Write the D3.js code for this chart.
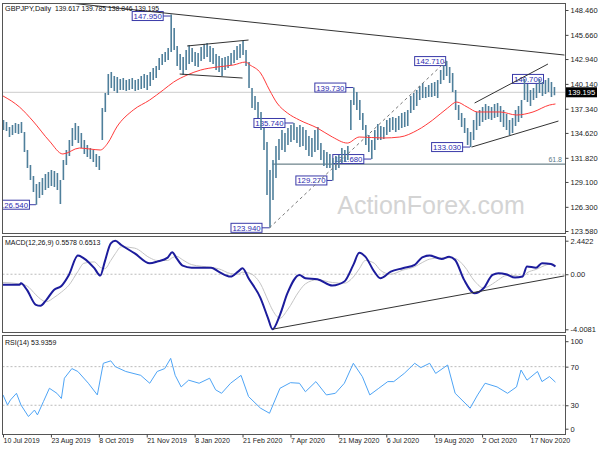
<!DOCTYPE html>
<html><head><meta charset="utf-8">
<script src="https://cdn.jsdelivr.net/npm/d3@7"></script>
<style>
body{margin:0;background:#fff}
svg{display:block}
text{font-family:Tahoma,'Liberation Sans',Arial,sans-serif}
</style>
</head><body>
<svg id="c" width="600" height="450"></svg>
<script>
// ---------- DATA ----------
// price bars, one entry per 2 trading days (bar index = 2*k)
const hi=[136.07,135.85,135.29,135.51,135.74,135.62,135.85,134.72,132.70,131.01,129.77,128.87,129.09,129.54,129.99,130.22,130.44,130.33,130.11,129.32,131.57,132.70,133.82,135.17,135.74,135.40,134.61,133.82,133.26,132.92,132.70,132.25,132.02,137.43,139.11,141.25,141.48,141.03,140.92,140.69,140.80,140.58,140.69,140.80,140.58,140.69,141.03,141.25,141.14,141.48,141.93,142.15,143.06,143.51,143.73,144.18,147.95,146.43,144.41,143.51,143.17,143.96,144.52,144.18,143.73,143.62,144.29,144.63,144.74,144.41,144.18,143.51,143.28,143.06,143.17,143.28,143.62,143.96,144.41,144.63,144.97,143.96,142.60,139.68,138.78,138.10,136.98,135.17,133.60,130.44,131.57,133.15,133.93,134.95,134.61,135.17,135.51,135.74,135.29,135.51,135.29,134.95,134.27,134.05,134.95,135.29,133.48,132.70,132.47,132.25,131.80,132.02,132.13,132.92,132.70,133.15,138.33,139.73,139.23,138.33,136.86,135.51,134.39,133.82,134.95,135.62,135.40,135.29,136.07,136.30,136.41,136.30,136.52,136.86,136.98,137.20,138.78,139.11,139.45,139.90,140.24,139.79,140.02,140.24,140.35,140.58,141.70,142.27,142.71,142.04,141.37,139.45,137.76,136.86,136.30,135.17,134.72,136.07,136.98,137.20,137.54,137.88,137.65,137.54,137.88,137.99,137.65,137.20,136.75,136.07,136.30,137.20,137.65,138.33,140.70,140.13,139.45,139.68,140.13,140.69,140.35,140.58,140.80,140.35,139.79];
const lo=[134.95,134.84,134.16,134.39,134.61,134.50,134.61,132.47,130.67,129.32,127.97,126.54,127.29,127.63,128.19,128.42,128.64,128.53,128.19,126.62,129.32,131.01,132.02,133.15,133.82,133.48,132.92,132.25,131.91,131.68,131.35,130.78,130.44,133.82,136.98,138.89,139.68,139.34,139.11,139.45,139.45,139.34,139.45,139.56,139.34,139.45,139.56,139.68,139.45,139.90,140.58,140.80,141.70,142.27,142.60,142.83,143.73,143.96,142.15,141.70,141.14,141.70,142.38,142.60,142.15,142.04,142.72,142.94,143.17,142.60,142.38,141.70,141.48,141.03,141.70,141.93,142.27,142.49,142.83,143.06,143.39,142.15,139.68,137.43,137.20,136.30,134.95,132.70,127.63,123.94,127.07,129.54,131.57,132.70,132.47,133.26,133.60,133.82,133.48,133.03,133.15,132.70,132.02,131.91,132.47,132.70,131.57,130.89,130.67,130.67,129.27,130.44,130.67,131.23,131.35,131.57,134.95,137.76,137.20,136.07,134.95,133.26,132.47,131.68,132.70,133.82,133.82,133.93,134.39,134.72,134.95,134.72,134.95,135.17,135.29,135.40,136.86,137.20,137.65,138.33,138.55,138.55,138.66,138.66,138.78,138.55,140.13,140.58,141.03,140.24,139.23,137.20,136.07,135.29,134.61,133.26,133.03,133.82,134.95,135.40,135.85,136.07,136.19,136.07,136.30,136.41,135.85,135.29,134.95,134.39,134.61,135.40,135.85,136.30,138.33,138.10,137.65,138.33,138.55,139.11,138.78,139.00,139.23,138.66,138.85];
// moving average [barIndex, price]
const ema=[[0,138.78],[11,137.54],[20,135.96],[31,133.71],[40,132.25],[51,132.92],[58,132.81],[65,132.70],[70,133.48],[76,135.29],[87,137.20],[98,138.33],[107,139.45],[114,140.35],[123,141.14],[132,141.70],[143,142.04],[154,142.27],[162,142.60],[165,142.27],[172,141.37],[178,139.45],[183,137.99],[190,136.86],[198,136.07],[210,135.17],[220,134.16],[230,133.48],[238,134.16],[254,134.05],[265,134.16],[277,134.95],[287,136.07],[297,137.43],[303,138.10],[310,137.54],[317,136.98],[332,136.98],[343,136.64],[354,136.98],[365,137.76],[369,137.88]];
// MACD main and signal [barIndex, value]
const macd=[[0,-0.77],[11,-0.77],[12,-0.65],[16,-1.14],[22,-2.23],[25,-2.30],[29,-1.86],[34,-1.14],[39,-0.85],[44,-0.05],[50,1.36],[54,1.16],[61,0.44],[65,-0.10],[68,0.92],[72,2.25],[75,2.44],[79,2.13],[88,1.52],[98,0.80],[103,0.92],[110,1.21],[113,1.60],[116,1.16],[120,0.63],[126,0.48],[139,0.48],[144,0.19],[152,-0.17],[157,0.19],[160,0.44],[164,-0.29],[172,-1.74],[177,-3.19],[180,-4.00],[185,-2.95],[190,-1.38],[198,-0.05],[202,-0.29],[210,-0.36],[220,-0.82],[228,-0.53],[234,0.68],[238,1.57],[242,1.28],[248,0.19],[252,-0.29],[259,0.19],[267,0.44],[275,0.68],[280,1.23],[285,1.36],[293,1.11],[298,1.28],[302,1.04],[308,-0.41],[315,-1.38],[321,-1.02],[327,-0.05],[331,0.07],[336,0.00],[342,-0.24],[347,-0.17],[350,0.56],[356,0.48],[360,0.80],[366,0.75],[369,0.56]];
const signal=[[0,-0.60],[11,-0.70],[16,-0.85],[22,-1.50],[25,-1.80],[29,-2.00],[34,-1.70],[39,-1.30],[44,-0.80],[50,0.20],[54,0.80],[61,0.90],[65,0.50],[68,0.40],[72,1.00],[75,1.50],[79,2.00],[88,1.90],[98,1.20],[103,1.00],[110,1.00],[113,1.20],[116,1.30],[120,1.05],[126,0.70],[139,0.50],[144,0.40],[152,0.05],[157,0.00],[160,0.15],[164,0.10],[172,-0.70],[177,-1.90],[180,-2.60],[185,-3.20],[190,-2.60],[198,-1.20],[202,-0.70],[210,-0.40],[220,-0.60],[228,-0.65],[234,-0.20],[238,0.40],[242,1.00],[248,0.80],[252,0.30],[259,0.00],[267,0.30],[275,0.55],[280,0.85],[285,1.10],[293,1.20],[298,1.20],[302,1.15],[308,0.60],[315,-0.50],[321,-1.00],[327,-0.70],[331,-0.40],[336,-0.10],[342,-0.10],[347,-0.20],[350,0.10],[356,0.35],[360,0.55],[366,0.75],[369,0.65]];
// RSI(14) [barIndex, value]
const rsi=[[0,40.7],[3,30.3],[5,35.5],[9,42.4],[12,30.3],[17,18.3],[21,25],[23,20],[27,33.8],[31,47.6],[36,42.4],[39,37],[41,58],[46,68],[50,65],[57,52.8],[63,40.7],[67,73.5],[72,76],[75,70],[82,65],[92,61],[98,52.8],[103,65],[108,68],[112,78.6],[115,61],[119,49],[124,56],[131,52.8],[138,58],[142,46],[146,42.4],[152,52.8],[159,61],[164,39],[172,27],[178,21.7],[185,47.6],[192,53.4],[198,52.8],[202,44],[209,54.5],[216,40.7],[222,42.4],[228,52.8],[234,73.5],[240,59.7],[245,40.7],[251,47.6],[257,54.5],[261,54.5],[268,63],[275,73.5],[279,69],[285,73.5],[289,63],[297,71.7],[302,42.4],[312,27],[317,40.7],[322,52.8],[330,49],[337,42.4],[343,49],[346,66.5],[350,56],[357,65],[360,54.5],[365,59.7],[369,53.94]];
// axis ticks
const priceTicks=[148.46,145.66,142.94,140.14,137.34,134.62,131.82,129.10,126.30,123.58];
const macdTicks=[2.4422,0,-4.0081];
const macdTickLabels=["2.4422","0.00","-4.0081"];
const rsiTicks=[100,70,30,0];
const dateTicks=[0,32,64,96,128,160,192,224,256,288,320,352];
const dateLabels=["10 Jul 2019","23 Aug 2019","8 Oct 2019","21 Nov 2019","8 Jan 2020","21 Feb 2020","7 Apr 2020","21 May 2020","6 Jul 2020","19 Aug 2020","2 Oct 2020","17 Nov 2020"];
// price annotations [barIndex, price]
const swingLabels=[[112,147.95],[22,126.54],[178,123.94],[194,135.74],[220,129.27],[246,131.68],[234,139.73],[296,142.71],[312,133.03],[348,140.70]];
const trendLines=[[[38,149.36],[375,143.39]],[[123,144.41],[164,145.08]],[[118,141.25],[160,140.80]],[[315,137.99],[364,142.38]],[[313,133.03],[371,135.96]]];
const dashedLine=[[178,123.94],[296,142.71]];
const fibLevel={from:180,to:375,price:131.11,label:"61.8"};
const macdTrend=[[180,-4.00],[375,-0.12]];
const headerName="GBPJPY,Daily";
const headerOHLC="139.617 139.785 138.846 139.195";
const lastPrice=139.195;
const macdTitle="MACD(12,26,9) 0.5578 0.6513";
const rsiTitle="RSI(14) 53.9359";

// ---------- LAYOUT ----------
const svg=d3.select("#c");
const L=2.5,R=565.5;
const P1={t:3.5,b:233.5},P2={t:236.5,b:332.5},P3={t:335.5,b:434.5};
const x=d3.scaleLinear().domain([0,352]).range([3,530]);
const y1=d3.scaleLinear().domain([123.58,148.46]).range([231,10]);
const y2=d3.scaleLinear().domain([-4.0081,2.4422]).range([329.3,240.7]);
const y3=d3.scaleLinear().domain([0,100]).range([434.2,337.7]);
const labelDx=[-8,-7,-8,-9,-6,-8,-8,-1,-8,24];
const smallFont=7;

svg.append("rect").attr("width",600).attr("height",450).attr("fill","#fff");
const defs=svg.append("defs");
[[1,P1],[2,P2],[3,P3]].forEach(([i,p])=>{
  defs.append("clipPath").attr("id","cp"+i).append("rect")
    .attr("x",L).attr("y",p.t).attr("width",R-L).attr("height",p.b-p.t);
});

// ---- main panel ----
const g1=svg.append("g").attr("clip-path","url(#cp1)");
g1.append("text").attr("x",431).attr("y",214).attr("text-anchor","middle")
  .attr("font-size",25).attr("fill","#d4d4d4").style("font-family","'Liberation Sans',Arial,sans-serif").text("ActionForex.com");
g1.append("line").attr("x1",L).attr("x2",R).attr("y1",y1(lastPrice)).attr("y2",y1(lastPrice))
  .attr("stroke","#cccccc").attr("stroke-width",1);
g1.append("line").attr("x1",x(fibLevel.from)).attr("x2",R).attr("y1",y1(fibLevel.price)).attr("y2",y1(fibLevel.price))
  .attr("stroke","#4a6670").attr("stroke-width",1);
g1.append("text").attr("x",562).attr("y",y1(fibLevel.price)-2).attr("text-anchor","end")
  .attr("font-size",7).attr("fill","#5a7a8a").text(fibLevel.label);
const fmt3=d3.format(".3f");
swingLabels.forEach(([i,p],j)=>{
  const bx=x(i), by=y1(p)+(i===112?1.5:0);
  const w=31,h=9;
  let left=labelDx[j]>0? bx-12 : bx+labelDx[j]-w;
  const right=left+w;
  if(labelDx[j]<=0) g1.append("line").attr("x1",right).attr("x2",bx).attr("y1",by).attr("y2",by).attr("stroke","#3a3aa8").attr("stroke-width",1);
  g1.append("rect").attr("x",left+0.5).attr("y",by-h/2).attr("width",w).attr("height",h)
    .attr("fill","#fff").attr("stroke","#3a3aa8").attr("stroke-width",1);
  g1.append("text").attr("x",left+w/2+0.5).attr("y",by+3).attr("text-anchor","middle")
    .attr("font-size",7.8).attr("fill","#2c2cb0").text(fmt3(p));
});
g1.append("g").selectAll("line").data(hi).join("line")
  .attr("x1",(d,k)=>x(2*k)+0.5).attr("x2",(d,k)=>x(2*k)+0.5)
  .attr("y1",d=>y1(d)).attr("y2",(d,k)=>y1(lo[k]))
  .attr("stroke","#4f7f9b").attr("stroke-width",1.6);
g1.append("path").datum(ema).attr("fill","none").attr("stroke","#ff3a3a").attr("stroke-width",1)
  .attr("d",d3.line().x(d=>x(d[0])).y(d=>y1(d[1])).curve(d3.curveMonotoneX));
trendLines.forEach(seg=>{
  g1.append("line").attr("x1",x(seg[0][0])).attr("y1",y1(seg[0][1])).attr("x2",x(seg[1][0])).attr("y2",y1(seg[1][1]))
    .attr("stroke","#333").attr("stroke-width",1);
});
g1.append("line").attr("x1",x(dashedLine[0][0])).attr("y1",y1(dashedLine[0][1])).attr("x2",x(dashedLine[1][0])).attr("y2",y1(dashedLine[1][1]))
  .attr("stroke","#777").attr("stroke-width",1).attr("stroke-dasharray","3,3");
// header
svg.append("text").attr("x",5).attr("y",10.5).attr("font-size",7.3).attr("fill","#111").text(headerName);
svg.append("text").attr("x",55).attr("y",10.5).attr("font-size",7.3).attr("fill","#111")
  .attr("textLength",104).attr("lengthAdjust","spacingAndGlyphs").text(headerOHLC);

// ---- MACD panel ----
const g2=svg.append("g").attr("clip-path","url(#cp2)");
g2.append("line").attr("x1",L).attr("x2",R).attr("y1",y2(0)).attr("y2",y2(0))
  .attr("stroke","#bbb").attr("stroke-dasharray","2,2");
g2.append("path").datum(signal).attr("fill","none").attr("stroke","#c4c4c4").attr("stroke-width",1)
  .attr("d",d3.line().x(d=>x(d[0])).y(d=>y2(d[1])).curve(d3.curveMonotoneX));
g2.append("path").datum(macd).attr("fill","none").attr("stroke","#1c1c9c").attr("stroke-width",2)
  .attr("d",d3.line().x(d=>x(d[0])).y(d=>y2(d[1])).curve(d3.curveMonotoneX));
g2.append("line").attr("x1",x(macdTrend[0][0])).attr("y1",y2(macdTrend[0][1])).attr("x2",x(macdTrend[1][0])).attr("y2",y2(macdTrend[1][1]))
  .attr("stroke","#333").attr("stroke-width",1);
svg.append("text").attr("x",5).attr("y",245).attr("font-size",smallFont).attr("fill","#111").text(macdTitle);

// ---- RSI panel ----
const g3=svg.append("g").attr("clip-path","url(#cp3)");
[70,30].forEach(v=>g3.append("line").attr("x1",L).attr("x2",R).attr("y1",y3(v)).attr("y2",y3(v))
  .attr("stroke","#bbb").attr("stroke-dasharray","2,2"));
g3.append("path").datum(rsi).attr("fill","none").attr("stroke","#4ea4f5").attr("stroke-width",1)
  .attr("d",d3.line().x(d=>x(d[0])).y(d=>y3(d[1])));
svg.append("text").attr("x",5).attr("y",345).attr("font-size",smallFont).attr("fill","#111").text(rsiTitle);

// ---- borders ----
[P1,P2,P3].forEach(p=>svg.append("rect").attr("x",L).attr("y",p.t).attr("width",R-L).attr("height",p.b-p.t)
  .attr("fill","none").attr("stroke","#555").attr("stroke-width",1));

// ---- axes ----
function styleAxis(g,fs){g.select(".domain").remove();g.selectAll("line").attr("stroke","#444");
  g.selectAll("text").attr("font-size",fs||7.5).attr("fill","#222").style("font-family","Tahoma,'Liberation Sans',Arial,sans-serif");}
svg.append("g").attr("transform",`translate(${R},0)`)
  .call(d3.axisRight(y1).tickValues(priceTicks).tickFormat(fmt3).tickSize(3).tickPadding(2)).call(styleAxis);
svg.append("g").attr("transform",`translate(${R},0)`)
  .call(d3.axisRight(y2).tickValues(macdTicks).tickFormat((d,i)=>macdTickLabels[i]).tickSize(3).tickPadding(2)).call(styleAxis);
const ra=svg.append("g").attr("transform",`translate(${R},0)`)
  .call(d3.axisRight(y3).tickValues(rsiTicks).tickSize(3).tickPadding(2)).call(styleAxis);
ra.selectAll(".tick").filter(d=>d===100).attr("transform",`translate(0,${y3(100)+4})`);
ra.selectAll(".tick").filter(d=>d===0).attr("transform",`translate(0,${y3(0)-5})`);
const xa=svg.append("g").attr("transform",`translate(0,${P3.b})`)
  .call(d3.axisBottom(x).tickValues(dateTicks).tickFormat((d,i)=>dateLabels[i]).tickSize(3).tickPadding(1)).call(g=>styleAxis(g,smallFont));
xa.selectAll("text").attr("text-anchor","start").attr("dx",0);
svg.append("rect").attr("x",566).attr("y",y1(lastPrice)-5).attr("width",31).attr("height",10).attr("fill","#000");
svg.append("text").attr("x",568).attr("y",y1(lastPrice)+3).attr("font-size",7.5).attr("fill","#fff").text(fmt3(lastPrice));
</script>
</body></html>
